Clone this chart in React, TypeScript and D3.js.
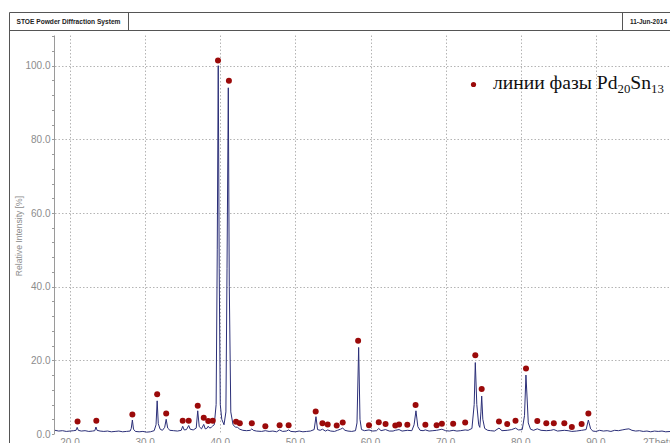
import React from "react";
import * as d3 from "d3";

// measured pattern, [2theta, relative intensity %]
const pattern: [number, number][] = [
  [18.0, 1.0], [18.5, 0.8], [19.0, 0.9], [19.5, 0.7], [20.0, 0.8], [20.5, 0.9],
  [20.8, 1.0], [20.95, 1.8], [21.1, 1.0], [21.5, 0.8], [22.0, 0.9], [22.5, 0.7],
  [23.0, 0.8], [23.3, 0.9], [23.45, 1.9], [23.6, 1.0], [24.0, 0.8], [24.5, 0.7],
  [25.0, 0.8], [25.5, 0.6], [26.0, 0.7], [26.5, 0.8], [27.0, 0.6], [27.5, 0.7],
  [28.0, 0.8], [28.15, 1.5], [28.3, 3.8], [28.45, 1.3], [28.7, 0.7], [29.2, 0.6],
  [29.7, 0.7], [30.2, 0.5], [30.7, 0.6], [31.2, 0.9], [31.45, 2.5], [31.6, 9.0],
  [31.75, 2.8], [32.0, 1.3], [32.3, 1.0], [32.6, 1.8], [32.8, 4.0], [33.0, 1.6],
  [33.3, 1.0], [33.8, 0.9], [34.3, 0.8], [34.8, 1.0], [35.0, 2.1], [35.2, 1.1],
  [35.5, 1.2], [35.8, 2.3], [36.0, 1.3], [36.4, 1.1], [36.8, 1.6], [37.0, 6.3],
  [37.2, 2.0], [37.5, 1.4], [37.8, 2.6], [38.0, 1.4], [38.2, 1.5], [38.4, 2.1],
  [38.6, 1.6], [38.8, 1.8], [39.0, 2.2], [39.2, 2.5], [39.45, 8], [39.6, 50],
  [39.73, 100], [39.86, 45], [40.0, 8], [40.2, 4], [40.5, 2.5], [40.75, 6],
  [40.9, 45], [41.07, 94], [41.2, 40], [41.4, 6], [41.7, 2.5], [42.0, 1.9],
  [42.3, 1.8], [42.6, 1.3], [43.0, 1.0], [43.5, 0.9], [44.0, 1.0], [44.2, 1.4],
  [44.4, 1.0], [44.8, 0.8], [45.5, 0.7], [46.0, 0.9], [46.5, 0.7], [47.0, 0.8],
  [47.5, 0.6], [47.9, 1.1], [48.3, 0.7], [48.8, 0.8], [49.1, 1.1], [49.4, 0.7],
  [50.0, 0.6], [50.5, 0.8], [51.0, 0.6], [51.5, 0.7], [52.0, 0.8], [52.5, 1.2],
  [52.74, 4.7], [52.95, 1.2], [53.3, 1.0], [53.6, 1.3], [54.0, 0.8], [54.3, 1.1],
  [54.7, 0.8], [55.2, 0.7], [55.6, 1.0], [56.0, 1.3], [56.3, 1.6], [56.6, 1.0],
  [57.0, 0.8], [57.5, 0.7], [58.0, 0.9], [58.2, 3], [58.42, 23.5], [58.6, 4],
  [58.8, 1.2], [59.2, 0.9], [59.8, 1.1], [60.3, 0.8], [60.8, 0.9], [61.1, 1.5],
  [61.4, 0.9], [62.0, 1.2], [62.5, 0.8], [63.0, 0.8], [63.3, 1.0], [63.8, 1.2],
  [64.2, 0.8], [64.9, 1.0], [65.5, 0.9], [65.8, 2.5], [66.05, 6.3], [66.3, 2.0],
  [66.6, 1.0], [67.0, 0.9], [67.3, 1.1], [67.8, 0.8], [68.3, 0.9], [68.8, 1.0],
  [69.5, 1.3], [70.0, 0.9], [70.5, 0.8], [71.0, 1.0], [71.5, 0.8], [72.0, 0.9],
  [72.6, 1.1], [73.0, 1.0], [73.5, 1.5], [73.8, 8], [73.95, 19.4], [74.15, 8],
  [74.4, 2.5], [74.55, 1.8], [74.7, 6], [74.8, 10.3], [74.95, 4], [75.2, 1.5],
  [75.6, 1.0], [76.0, 0.9], [76.5, 0.8], [77.1, 1.6], [77.5, 0.9], [78.2, 1.0],
  [78.8, 1.2], [79.3, 1.6], [79.7, 1.1], [80.2, 1.2], [80.5, 5], [80.69, 16.0],
  [80.85, 9.5], [81.0, 3], [81.3, 1.3], [81.7, 1.0], [82.2, 1.4], [82.7, 1.0],
  [83.4, 0.9], [84.0, 1.0], [84.4, 1.2], [84.9, 0.8], [85.8, 1.0], [86.3, 0.9],
  [86.8, 0.7], [87.4, 0.8], [88.1, 1.0], [88.7, 1.2], [89.0, 3.8], [89.3, 1.4],
  [89.6, 0.8], [90.0, 0.7], [90.5, 1.0], [91.0, 0.8], [91.5, 0.9], [92.0, 0.7],
  [92.5, 1.0], [93.0, 0.9], [93.5, 1.1], [94.0, 1.3], [94.4, 1.4], [94.8, 1.0],
  [95.3, 0.8], [95.8, 0.9], [96.3, 0.7], [96.8, 0.8], [97.3, 0.6], [97.8, 0.8],
  [98.3, 0.7], [98.8, 0.8], [99.3, 0.6], [100, 0.7],
];

// Pd20Sn13 phase lines
const phaseLines: [number, number][] = [
  [21.0, 3.4], [23.5, 3.6], [28.3, 5.3], [31.6, 10.8], [32.8, 5.6], [35.0, 3.6],
  [35.8, 3.6], [37.0, 7.7], [37.8, 4.4], [38.4, 3.5], [39.0, 3.6], [39.7, 101.4],
  [41.15, 95.9], [42.1, 3.3], [42.6, 2.9], [44.2, 2.9], [46.0, 2.1], [47.9, 2.4],
  [49.1, 2.4], [52.7, 6.1], [53.6, 2.9], [54.3, 2.6], [55.5, 2.3], [56.3, 3.1],
  [58.35, 25.3], [59.8, 2.4], [61.1, 3.2], [62.0, 2.7], [63.3, 2.3], [63.8, 2.6],
  [64.9, 2.5], [66.0, 7.9], [67.3, 2.5], [68.8, 2.4], [69.5, 2.8], [71.0, 2.8],
  [72.6, 3.1], [73.95, 21.4], [74.8, 12.2], [77.1, 3.4], [78.2, 2.7], [79.3, 3.6],
  [80.7, 17.8], [82.2, 3.5], [83.4, 2.9], [84.4, 2.9], [85.8, 2.9], [86.8, 1.9],
  [88.1, 2.7], [89.0, 5.6],
];

const xTicks = [20, 30, 40, 50, 60, 70, 80, 90];
const yTicks = [0, 20, 40, 60, 80, 100];

const W = 670;
const H = 443;
const axisTop = 35.5;
const gridColor = "#b4b4b4";
const labelColor = "#8c8c8c";

export default function App() {
  const x = d3.scaleLinear().domain([18, 100]).range([55, 671]);
  const y = d3.scaleLinear().domain([0, 100]).range([434, 65.7]);
  const line = d3
    .line<[number, number]>()
    .x((d) => x(d[0]))
    .y((d) => y(d[1]));

  const minor = d3.range(0, 109, 4);

  return (
    <svg
      width={W}
      height={H}
      style={{ position: "absolute", left: 0, top: 0, background: "#fff" }}
      fontFamily="'Liberation Sans', Arial, sans-serif"
    >
      {/* header frame */}
      <g stroke="#555" strokeWidth={1} fill="none">
        <line x1={9.5} x2={W} y1={12.5} y2={12.5} />
        <line x1={9.5} x2={W} y1={30.5} y2={30.5} />
        <line x1={9.5} x2={9.5} y1={12.5} y2={H} />
        <line x1={128.5} x2={128.5} y1={12.5} y2={30.5} />
        <line x1={622.5} x2={622.5} y1={12.5} y2={30.5} />
      </g>
      <text x={16.5} y={24} fontSize={6.6} fontWeight="bold" fill="#222" textLength={104} lengthAdjust="spacingAndGlyphs">
        STOE Powder Diffraction System
      </text>
      <text x={630} y={24} fontSize={6.6} fontWeight="bold" fill="#222" textLength={37} lengthAdjust="spacingAndGlyphs">
        11-Jun-2014
      </text>

      {/* grid */}
      <g stroke={gridColor} strokeWidth={1} strokeDasharray="1.5,2">
        {xTicks.map((t) => (
          <line key={"gx" + t} x1={Math.round(x(t)) + 0.5} x2={Math.round(x(t)) + 0.5} y1={axisTop} y2={y(0)} />
        ))}
        {yTicks.filter((t) => t > 0).map((t) => (
          <line key={"gy" + t} x1={x(18)} x2={W} y1={Math.round(y(t)) + 0.5} y2={Math.round(y(t)) + 0.5} />
        ))}
      </g>

      {/* y axis */}
      <g stroke="#9a9a9a" strokeWidth={1}>
        <line x1={54.5} x2={54.5} y1={axisTop} y2={y(0)} />
        {minor.map((t) => (
          <line key={"mt" + t} x1={52} x2={54.5} y1={Math.round(y(t)) + 0.5} y2={Math.round(y(t)) + 0.5} />
        ))}
      </g>
      {yTicks.map((t) => (
        <text key={"yl" + t} x={50.5} y={y(t) + 3.6} fontSize={10} fill={labelColor} textAnchor="end">
          {t.toFixed(1)}
        </text>
      ))}
      <text
        transform={`translate(22,236) rotate(-90)`}
        fontSize={8.6}
        fill={labelColor}
        textAnchor="middle"
      >
        Relative Intensity [%]
      </text>

      {/* x labels, cut by the lower edge as in the source */}
      {xTicks.map((t) => (
        <text key={"xl" + t} x={x(t)} y={445.5} fontSize={10} fill={labelColor} textAnchor="middle">
          {t.toFixed(1)}
        </text>
      ))}
      <text x={643} y={445.5} fontSize={10} fill={labelColor}>
        2Theta
      </text>

      {/* pattern */}
      <path d={line(pattern) ?? ""} fill="none" stroke="#2b2f78" strokeWidth={1} strokeLinejoin="round" />

      {/* phase markers */}
      <g fill="#9b0a0a">
        {phaseLines.map((d, i) => (
          <circle key={"pl" + i} cx={x(d[0])} cy={y(d[1])} r={3} />
        ))}
      </g>

      {/* legend */}
      <circle cx={473.5} cy={84.5} r={2.6} fill="#9b0a0a" />
      <text x={493} y={88.5} fontFamily="'Liberation Serif', 'Times New Roman', serif" fontSize={19.6} fill="#111">
        линии фазы Pd
        <tspan fontSize={12.8} dy={4.3}>20</tspan>
        <tspan dy={-4.3}>Sn</tspan>
        <tspan fontSize={12.8} dy={4.3}>13</tspan>
      </text>
    </svg>
  );
}
